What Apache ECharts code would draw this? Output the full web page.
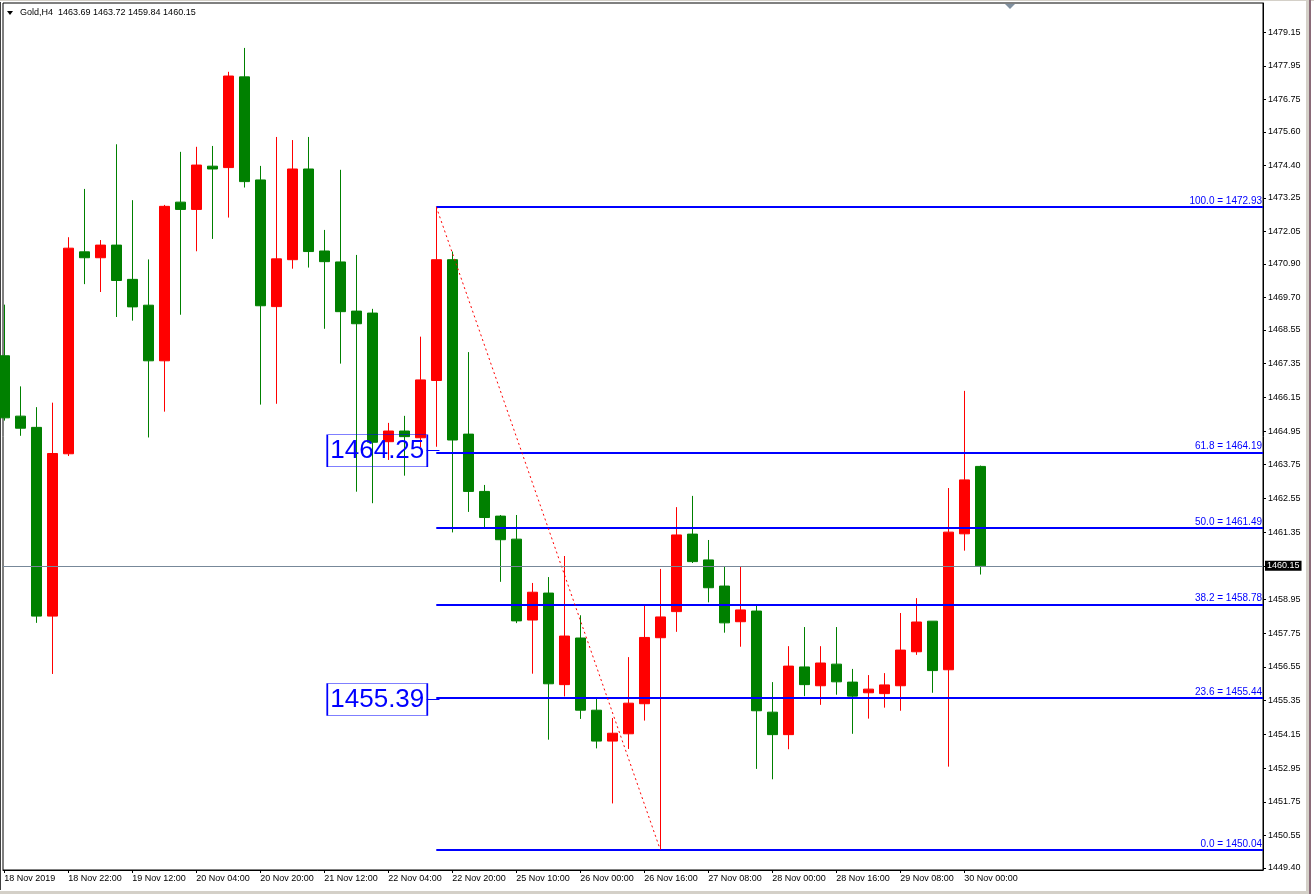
<!DOCTYPE html>
<html>
<head>
<meta charset="utf-8">
<script src="https://cdn.jsdelivr.net/npm/echarts@6/dist/echarts.min.js"></script>
<style>
html,body{margin:0;padding:0;background:#ffffff;}
#chart{width:1314px;height:894px;}
</style>
</head>
<body>
<div id="chart"></div>
<script>
// ---------------- data ----------------
const symbolName = 'Gold,H4';

const opens  = [1467.63,1465.48,1465.08,1458.36,1464.14,1471.33,1471.12,1471.57,1470.35,1469.43,
                1467.45,1473.10,1472.84,1474.38,1474.33,1477.56,1473.89,1469.38,1471.05,1474.28,
                1471.36,1470.97,1469.22,1469.15,1464.57,1464.95,1464.71,1466.75,1471.05,1464.84,
                1462.80,1461.92,1461.10,1458.22,1459.18,1455.92,1457.58,1455.01,1453.91,1454.17,
                1455.24,1457.59,1458.52,1461.28,1460.36,1459.43,1458.16,1458.54,1454.94,1454.14,
                1456.55,1455.88,1456.65,1456.01,1455.63,1455.60,1455.88,1457.09,1458.18,1456.45,
                1461.29,1463.69];
const highs  = [1469.45,1466.54,1465.80,1465.96,1471.85,1473.57,1471.75,1475.16,1473.17,1471.06,
                1473.00,1474.89,1475.07,1475.10,1477.74,1478.59,1474.39,1475.42,1475.31,1475.42,
                1472.11,1474.25,1471.22,1469.30,1465.24,1465.49,1468.31,1472.93,1471.34,1467.76,
                1463.03,1461.96,1461.96,1459.54,1459.75,1460.50,1458.39,1455.47,1454.73,1456.90,
                1458.79,1460.04,1462.24,1462.64,1461.07,1460.14,1460.11,1458.79,1456.01,1457.29,
                1457.97,1457.29,1457.97,1456.48,1456.26,1456.33,1458.47,1459.00,1458.18,1462.92,
                1466.38,1463.72];
const lows   = [1465.32,1464.78,1458.12,1456.30,1464.06,1470.18,1469.90,1469.01,1468.88,1464.72,
                1465.64,1469.09,1471.35,1471.79,1472.55,1473.62,1465.89,1465.92,1470.73,1470.77,
                1468.59,1467.35,1462.79,1462.38,1463.92,1463.36,1464.37,1464.39,1461.34,1462.07,
                1461.53,1459.58,1458.11,1456.31,1453.96,1455.50,1454.70,1453.65,1451.69,1453.63,
                1454.64,1450.04,1457.80,1460.25,1458.85,1457.77,1457.27,1452.92,1452.55,1453.62,
                1455.51,1455.20,1455.56,1454.17,1454.71,1455.10,1454.99,1456.98,1455.63,1453.00,
                1460.69,1459.84];
const closes = [1465.42,1465.05,1458.36,1464.15,1471.46,1471.12,1471.57,1470.31,1469.37,1467.45,
                1472.95,1472.84,1474.42,1474.28,1477.59,1473.83,1469.41,1471.08,1474.28,1471.34,
                1470.98,1469.20,1468.77,1464.55,1464.95,1464.75,1466.77,1471.05,1464.63,1462.80,
                1461.87,1461.08,1458.19,1459.21,1455.95,1457.65,1455.01,1453.91,1454.19,1455.26,
                1457.60,1458.33,1461.25,1460.30,1459.37,1458.12,1458.58,1454.99,1454.14,1456.58,
                1455.92,1456.69,1456.02,1455.51,1455.76,1455.91,1457.15,1458.15,1456.42,1461.35,
                1463.21,1460.15];

const timeLabels = ['18 Nov 2019','18 Nov 22:00','19 Nov 12:00','20 Nov 04:00','20 Nov 20:00',
                    '21 Nov 12:00','22 Nov 04:00','22 Nov 20:00','25 Nov 10:00','26 Nov 00:00',
                    '26 Nov 16:00','27 Nov 08:00','28 Nov 00:00','28 Nov 16:00','29 Nov 08:00',
                    '30 Nov 00:00'];
const timeLabelBars = [0,4,8,12,16,20,24,28,32,36,40,44,48,52,56,60];

const priceTicks = [1479.15,1477.95,1476.75,1475.60,1474.40,1473.25,1472.05,1470.90,1469.70,
                    1468.55,1467.35,1466.15,1464.95,1463.75,1462.55,1461.35,1460.15,1458.95,
                    1457.75,1456.55,1455.35,1454.15,1452.95,1451.75,1450.55,1449.40];

const fibRatios = ['100.0','61.8','50.0','38.2','23.6','0.0'];
const fibValues = [1472.93,1464.19,1461.49,1458.78,1455.44,1450.04];
const fibHighBar = 27;
const fibLowBar = 41;

const priceLabels = [1464.25, 1455.39];
const priceLabelBar = 27;

// ---------------- view settings ----------------
const X_MIN = -0.08, X_MAX = 78.67;
const Y_MIN = 1449.32, Y_MAX = 1480.19;
const FONT = '"Liberation Sans", Arial, sans-serif';
const BLUE = '#0000FF';

const candles = opens.map((o, i) => [i, o, closes[i], lows[i], highs[i]]);
const last = closes.length - 1;
const lastClose = closes[last];

const markLines = [];
// fibonacci levels
fibValues.forEach((v, i) => {
  markLines.push([
    { coord: [fibHighBar, v],
      lineStyle: { color: BLUE, width: 2, type: 'solid' },
      label: { show: true, position: 'insideEndTop', distance: 1,
               formatter: fibRatios[i] + ' = ' + v.toFixed(2),
               color: BLUE, fontSize: 10, fontFamily: FONT } },
    { coord: [X_MAX, v] }
  ]);
});
// fibonacci trend line (high -> low)
markLines.push([
  { coord: [fibHighBar, fibValues[0]],
    lineStyle: { color: '#FF0000', width: 1, type: [2, 3] },
    label: { show: false } },
  { coord: [fibLowBar, fibValues[fibValues.length - 1]] }
]);
// connectors of the price labels
priceLabels.forEach(p => {
  markLines.push([
    { coord: [priceLabelBar - 0.6, p],
      lineStyle: { color: BLUE, width: 1, type: 'solid' },
      label: { show: false } },
    { coord: [priceLabelBar + 0.2, p] }
  ]);
});
// current price line
markLines.push({
  yAxis: lastClose,
  lineStyle: { color: '#778899', width: 1, type: 'solid' },
  label: { show: true, position: 'end', distance: 2,
           formatter: lastClose.toFixed(2),
           color: '#FFFFFF', backgroundColor: '#000000',
           padding: [1, 2, 0, 2], fontSize: 9, fontFamily: FONT }
});

const chart = echarts.init(document.getElementById('chart'), null, { renderer: 'canvas' });

chart.setOption({
  animation: false,
  backgroundColor: '#FFFFFF',
  grid: { left: 3, right: 51, top: 3, bottom: 24, show: true,
          borderColor: '#000000', borderWidth: 1, backgroundColor: '#FFFFFF' },
  xAxis: {
    type: 'value', min: X_MIN, max: X_MAX,
    axisLine: { show: true, onZero: false, lineStyle: { color: '#000000', width: 1 } },
    axisTick: { show: true, customValues: timeLabelBars, length: 3, inside: false,
                lineStyle: { color: '#000000' } },
    axisLabel: { show: true, customValues: timeLabelBars, align: 'left', margin: 4,
                 hideOverlap: false, color: '#000000', fontSize: 9, fontFamily: FONT,
                 formatter: v => timeLabels[timeLabelBars.indexOf(Math.round(v))] || '' },
    splitLine: { show: false }
  },
  yAxis: {
    type: 'value', position: 'right', min: Y_MIN, max: Y_MAX, scale: true,
    axisLine: { show: true, onZero: false, lineStyle: { color: '#000000', width: 1 } },
    axisTick: { show: true, customValues: priceTicks, length: 3, inside: false,
                lineStyle: { color: '#000000' } },
    axisLabel: { show: true, customValues: priceTicks.filter(t => t !== lastClose),
                 margin: 5, hideOverlap: false, color: '#000000', fontSize: 9, fontFamily: FONT,
                 formatter: v => v.toFixed(2) },
    splitLine: { show: false }
  },
  series: [{
    type: 'candlestick',
    data: candles,
    encode: { x: 0, y: [1, 2, 3, 4] },
    barWidth: 10,
    clip: true,
    silent: true,
    itemStyle: { color: '#FF0000', color0: '#008000',
                 borderColor: '#FF0000', borderColor0: '#008000', borderWidth: 1 },
    markLine: {
      silent: true, symbol: ['none', 'none'], animation: false,
      emphasis: { disabled: true },
      data: markLines
    },
    markPoint: {
      silent: true, animation: false,
      symbol: 'rect', symbolSize: [100, 32], symbolOffset: [-59, 0],
      itemStyle: { color: 'rgba(0,0,0,0)', borderColor: BLUE, borderWidth: 1 },
      label: { show: true, position: 'inside', color: BLUE, fontSize: 26, fontFamily: FONT },
      data: priceLabels.map(p => ({ coord: [priceLabelBar, p], value: p,
                                    label: { formatter: p.toFixed(2) } }))
    }
  }],
  graphic: [
    { type: 'rect', shape: { x: 0, y: 0, width: 1314, height: 1 }, style: { fill: '#D4D0C8' }, silent: true },
    { type: 'rect', shape: { x: 0, y: 2, width: 1, height: 888 }, style: { fill: '#404040' }, silent: true },
    { type: 'rect', shape: { x: 1306, y: 0, width: 3, height: 894 }, style: { fill: '#D4D0C8' }, silent: true },
    { type: 'rect', shape: { x: 1309, y: 0, width: 2, height: 894 }, style: { fill: '#8A6A78' }, silent: true },
    { type: 'rect', shape: { x: 0, y: 891, width: 1306, height: 3 }, style: { fill: '#D4D0C8' }, silent: true },
    { type: 'polygon', shape: { points: [[7, 11], [13, 11], [10, 15]] }, style: { fill: '#000000' }, silent: true },
    { type: 'polygon', shape: { points: [[1005, 4], [1015, 4], [1010, 9]] }, style: { fill: '#8090A0' }, silent: true },
    { type: 'text', x: 20, y: 13, silent: true,
      style: { text: symbolName + '  ' + [opens[last], highs[last], lows[last], closes[last]].map(v => v.toFixed(2)).join(' '),
               fill: '#000000', font: '9px ' + FONT, verticalAlign: 'middle', align: 'left' } }
  ]
});
</script>
</body>
</html>
